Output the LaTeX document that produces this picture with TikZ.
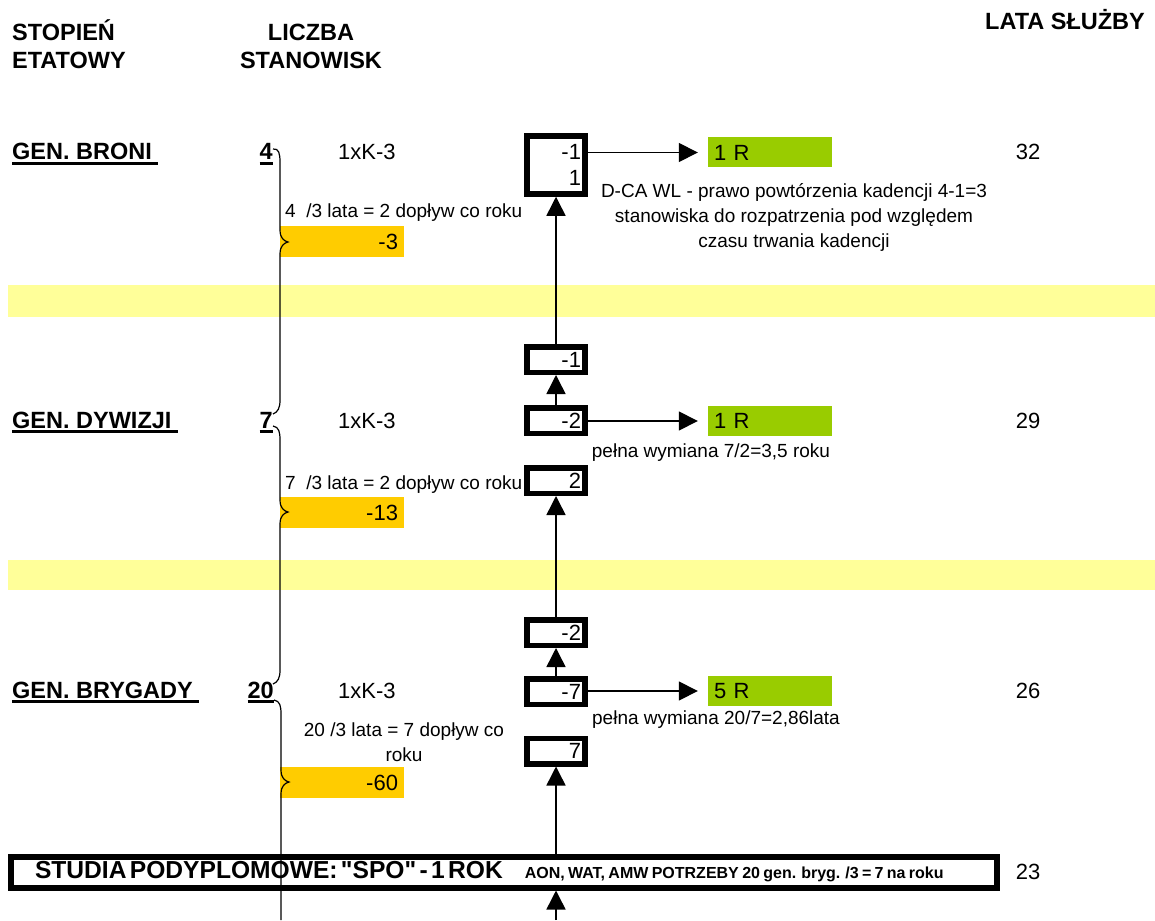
\documentclass[tikz,border=0pt]{standalone}
\usepackage{fontspec}
\setmainfont{Liberation Sans}[Ligatures=TeXOff]
\usepackage{tikz}
\usetikzlibrary{arrows.meta}
\usetikzlibrary{positioning}
\usepackage{xcolor}
\definecolor{bandyellow}{HTML}{FFFF99}
\definecolor{inflowcol}{HTML}{FFCC00}
\definecolor{outgreen}{HTML}{99CC00}
\newcommand{\rankline}[1]{\setbox0\hbox{#1}\rlap{\rule[-5pt]{\wd0}{2.6pt}}\box0}
\tikzset{
    header/.style={
        font=\bfseries\fontsize{23.5}{28}\selectfont,
        inner sep=0pt
    },
    rank/.style={
        font=\bfseries\fontsize{23.5}{28}\selectfont,
        inner sep=0pt,
        anchor=base west
    },
    plain/.style={
        font=\fontsize{22}{26}\selectfont,
        inner sep=0pt
    },
    note/.style={
        font=\fontsize{19}{25}\selectfont,
        inner sep=0pt,
        align=center
    },
    cell/.style={
        draw,
        line width=5.5pt,
        minimum width=58pt,
        minimum height=25.5pt,
        text width=50pt,
        align=right,
        inner sep=0pt,
        font=\fontsize{22}{26}\selectfont
    },
    leave/.style={
        fill=outgreen,
        minimum width=124pt,
        minimum height=30pt,
        text width=112pt,
        align=left,
        inner sep=0pt,
        font=\fontsize{22}{26}\selectfont
    },
    inflow/.style={
        fill=inflowcol,
        minimum width=124pt,
        minimum height=31pt,
        text width=112pt,
        align=right,
        inner sep=0pt,
        font=\fontsize{22}{26}\selectfont
    },
    flow/.style={
        line width=1.5pt,
        -{Triangle[length=19pt, width=19pt]}
    },
    brace/.style={line width=1.2pt}
}

\begin{document}
\begin{tikzpicture}[x=1pt, y=-1pt]
  \useasboundingbox[fill=white] (0,0) rectangle (1155,920);

  % Yellow bands between the ranks
  \fill[bandyellow] (8,285) rectangle (1155,317);
  \fill[bandyellow] (8,560) rectangle (1155,590);

  % Column headers
  \node[header, anchor=base west, align=left] (hrank) at (12,68.5) {STOPIEŃ\\ETATOWY};
  \node[header, anchor=base, align=center] (hposts) at (311,68.5) {LICZBA\\STANOWISK};
  \node[header, anchor=base] (hyears) at (1065,30) {LATA SŁUŻBY};

  % First rank
  \node[rank] (broni) at (12,160) {\rankline{GEN. BRONI\ }};
  \node[rank, anchor=base east] (n4) at (273,160) {\rankline{4}};
  \node[plain, anchor=base west] (k1) at (338,160) {1xK-3};
  \node[cell, minimum height=58pt] (c1) at (556,165) {-1\\1};
  \node[leave] (g1) at (770,152.5) {1 R};
  \node[plain, anchor=base] (y1) at (1028,160) {32};
  \node[note] (d1) at (794,217) {D-CA WL - prawo powtórzenia kadencji 4-1=3\\stanowiska do rozpatrzenia pod względem\\czasu trwania kadencji};
  \node[note, anchor=base west] (s1) at (285,217) {4\ \ /3 lata = 2 dopływ co roku};
  \node[inflow] (o1) at (342,241.5) {-3};

  % Second rank
  \node[cell] (c2a) at (556,359.5) {-1};
  \node[cell] (c2b) at (556,420.5) {-2};
  \node[rank] (dywizji) at (12,428) {\rankline{GEN. DYWIZJI\ }};
  \node[rank, anchor=base east] (n7) at (273,428) {\rankline{7}};
  \node[plain, anchor=base west] (k2) at (338,428) {1xK-3};
  \node[leave] (g2) at (770,421) {1 R};
  \node[plain, anchor=base] (y2) at (1028,428) {29};
  \node[note] (d2) at (711,453) {pełna wymiana 7/2=3,5 roku};
  \node[cell] (c2c) at (556,480.5) {2};
  \node[note, anchor=base west] (s2) at (285,489) {7\ \ /3 lata = 2 dopływ co roku};
  \node[inflow] (o2) at (342,512.5) {-13};

  % Third rank
  \node[cell] (c3a) at (556,632.5) {-2};
  \node[cell] (c3b) at (556,691.5) {-7};
  \node[rank] (brygady) at (12,698) {\rankline{GEN. BRYGADY\ }};
  \node[rank, anchor=base east] (n20) at (274,698) {\rankline{20}};
  \node[plain, anchor=base west] (k3) at (338,698) {1xK-3};
  \node[leave] (g3) at (770,691) {5 R};
  \node[plain, anchor=base] (y3) at (1028,698) {26};
  \node[note] (d3) at (716,720) {pełna wymiana 20/7=2,86lata};
  \node[note] (s3) at (404,742) {20 /3 lata = 7 dopływ co\\roku};
  \node[cell] (c3c) at (556,751) {7};
  \node[inflow] (o3) at (342,782.5) {-60};

  % Postgraduate studies
  \node[draw, line width=6pt, minimum width=986pt, minimum height=31pt,
        text width=938pt, inner xsep=24pt, inner ysep=0pt, align=left] (spo) at (504,872)
    {\mbox{{\bfseries\fontsize{24.6}{28}\selectfont STUDIA PODYPLOMOWE: "SPO" - 1 ROK}\hspace{22pt}{\bfseries\fontsize{16}{18}\selectfont AON, WAT, AMW POTRZEBY 20 gen. bryg. /3 = 7 na roku}}};
  \node[plain] (y4) at (1028,872) {23};
  \coordinate (entry) at (556,920);

  % Flows up the ranks
  \draw[flow] (c2a) -- (c1);
  \draw[flow] (c2b) -- (c2a);
  \draw[flow] (c3a) -- (c2c);
  \draw[flow] (c3b) -- (c3a);
  \draw[flow] (spo.north -| c3c) -- (c3c);
  \draw[flow] (entry) -- (spo.south -| entry);

  % Flows out (reserve)
  \draw[flow, shorten >=10pt] (c1.east |- g1.west) -- (g1.west);
  \draw[flow, shorten >=10pt] (c2b.east |- g2.west) -- (g2.west);
  \draw[flow, shorten >=10pt] (c3b.east |- g3.west) -- (g3.west);

  % Braces
  \draw[brace] (273,149) .. controls (279,148) and (280,154) .. (280,162) -- (280,230)
    .. controls (280,238) and (284,241) .. (288,242) .. controls (284,243) and (280,246) .. (280,254)
    -- (280,400) .. controls (280,408) and (278,412) .. (273,414);
  \draw[brace] (273,426) .. controls (279,427) and (280,432) .. (280,440) -- (280,500)
    .. controls (280,508) and (284,511) .. (288,512) .. controls (284,513) and (280,516) .. (280,524)
    -- (280,670) .. controls (280,678) and (278,682) .. (273,684);
  \draw[brace] (274,700) .. controls (280,701) and (281,706) .. (281,714) -- (281,770)
    .. controls (281,778) and (285,781) .. (289,782) .. controls (285,783) and (281,786) .. (281,794)
    -- (281,920);
\end{tikzpicture}
\end{document}
